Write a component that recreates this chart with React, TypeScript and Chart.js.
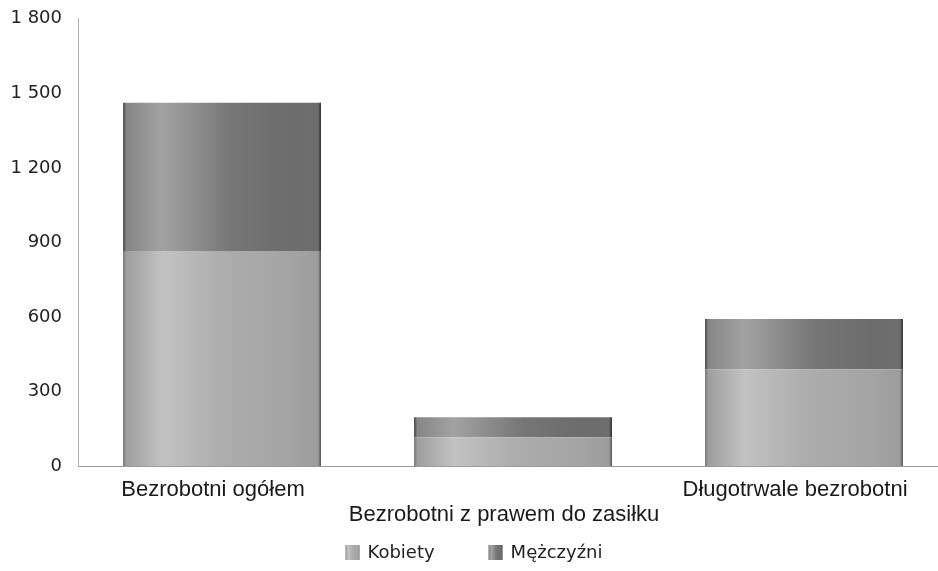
import React, { useEffect, useRef } from "react";
import { Chart, registerables } from "chart.js";

Chart.register(...registerables);

const categories = [
  "Bezrobotni ogółem",
  "Bezrobotni z prawem do zasiłku",
  "Długotrwale bezrobotni",
];
const seriesNames = ["Kobiety", "Mężczyźni"];
const kobiety = [866, 117, 390];
const mezczyzni = [596, 80, 202];
const yTicks = [0, 300, 600, 900, 1200, 1500, 1800];

const KOB_STOPS: [number, string][] = [
  [0, "#707070"],
  [0.015, "#9e9e9e"],
  [0.2, "#c2c2c2"],
  [0.5, "#adadad"],
  [0.85, "#a4a4a4"],
  [0.985, "#9c9c9c"],
  [1, "#505050"],
];
const MEZ_STOPS: [number, string][] = [
  [0, "#3c3c3c"],
  [0.015, "#868686"],
  [0.2, "#a2a2a2"],
  [0.55, "#767676"],
  [0.85, "#6c6c6c"],
  [0.985, "#6e6e6e"],
  [1, "#2e2e2e"],
];
const BAR_FRACTION = 0.68;

function makeGradient(c: CanvasRenderingContext2D, x0: number, x1: number, stops: [number, string][]) {
  const g = c.createLinearGradient(x0, 0, x1, 0);
  stops.forEach(([o, col]) => g.addColorStop(o, col));
  return g;
}

function barFill(stops: [number, string][], fallback: string) {
  return (ctx: any) => {
    const chart = ctx.chart;
    if (ctx.type !== "data" || !chart.chartArea || !chart.scales.x) return fallback;
    const xs = chart.scales.x;
    const cx = xs.getPixelForValue(ctx.dataIndex);
    const w = (xs.getPixelForValue(1) - xs.getPixelForValue(0)) * BAR_FRACTION;
    return makeGradient(chart.ctx, cx - w / 2, cx + w / 2, stops);
  };
}

const legendPlugin = {
  id: "customLegend",
  afterDraw(chart: any) {
    const c: CanvasRenderingContext2D = chart.ctx;
    const font = "18px 'DejaVu Sans'";
    c.save();
    c.font = font;
    const box = 14;
    const gapText = 8;
    const gapItems = 54;
    const items = chart.data.datasets.map((d: any, i: number) => ({
      text: d.label,
      stops: i === 0 ? KOB_STOPS : MEZ_STOPS,
      w: box + gapText + c.measureText(d.label).width,
    }));
    const total = items.reduce((s: number, it: any) => s + it.w, 0) + gapItems * (items.length - 1);
    let x = chart.width / 2 - total / 2 + 5;
    const cy = 552;
    items.forEach((it: any) => {
      c.fillStyle = makeGradient(c, x, x + box, it.stops);
      c.fillRect(x, cy - box / 2, box, box + 1);
      c.fillStyle = "#222";
      c.textBaseline = "middle";
      c.textAlign = "left";
      c.fillText(it.text, x + box + gapText, cy + 1);
      x += it.w + gapItems;
    });
    c.restore();
  },
};

export default function App() {
  const ref = useRef<HTMLCanvasElement | null>(null);
  useEffect(() => {
    document.body.style.margin = "0";
    const canvas = ref.current!;
    const toPoints = (vals: number[]) => vals.map((v, i) => ({ x: i, y: v }));
    const chart = new Chart(canvas, {
      type: "bar",
      data: {
        datasets: [
          {
            label: seriesNames[0],
            data: toPoints(kobiety),
            backgroundColor: barFill(KOB_STOPS, "#b0b0b0"),
            borderWidth: 0,
            categoryPercentage: BAR_FRACTION,
            barPercentage: 1,
          },
          {
            label: seriesNames[1],
            data: toPoints(mezczyzni),
            backgroundColor: barFill(MEZ_STOPS, "#7a7a7a"),
            borderWidth: 0,
            categoryPercentage: BAR_FRACTION,
            barPercentage: 1,
          },
        ],
      },
      options: {
        animation: false,
        responsive: false,
        layout: { padding: { top: 0, left: 10, right: 1, bottom: 41 } },
        plugins: {
          legend: { display: false },
          tooltip: { enabled: false },
        },
        scales: {
          x: {
            type: "linear",
            stacked: true,
            offset: false,
            min: -0.495,
            max: categories.length - 0.543,
            afterBuildTicks: (axis: any) => {
              axis.ticks = categories.map((_c, i) => ({ value: i }));
            },
            grid: { display: false, offset: false },
            border: { display: true, color: "#9a9a9a", width: 1 },
            ticks: {
              color: "#1a1a1a",
              padding: 3,
              labelOffset: -9,
              maxRotation: 0,
              autoSkip: false,
              font: { family: "'Liberation Sans', Arial", size: 22, lineHeight: 1.13 },
              callback: (v: any) => {
                const i = Math.round(Number(v));
                return i % 2 === 1 ? ["", categories[i]] : categories[i];
              },
            },
          },
          y: {
            stacked: true,
            min: yTicks[0],
            max: yTicks[yTicks.length - 1],
            afterBuildTicks: (axis: any) => {
              axis.ticks = yTicks.map((v) => ({ value: v }));
            },
            afterFit: (axis: any) => {
              axis.width = 68;
            },
            grid: { display: false },
            border: { display: true, color: "#b0b0b0", width: 1, dash: [1, 1] },
            ticks: {
              color: "#222",
              padding: 8,
              font: { family: "'DejaVu Sans'", size: 18 },
              callback: (v: any) => String(v).replace(/\B(?=(\d{3})+(?!\d))/g, " "),
            },
          },
        },
      },
      plugins: [legendPlugin],
    });
    return () => chart.destroy();
  }, []);
  return <canvas ref={ref} width={938} height={571} style={{ display: "block" }} />;
}
